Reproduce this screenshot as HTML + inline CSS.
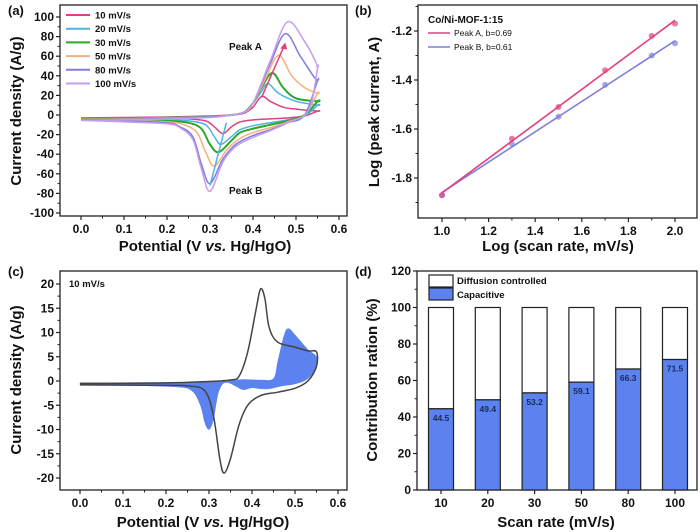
<!DOCTYPE html>
<html><head><meta charset="utf-8"><style>
html,body{margin:0;padding:0;background:#fff;}
svg{display:block;font-family:"Liberation Sans",Arial,sans-serif;font-weight:bold;}
</style></head><body>
<svg id="fig" width="700" height="532" viewBox="0 0 700 532"></svg>
<script>
// ---------- Panel (a) data ----------
const aRates = ["10 mV/s","20 mV/s","30 mV/s","50 mV/s","80 mV/s","100 mV/s"];
const aColors = ["#e0407f","#4fb3e0","#2aa82a","#f5b080","#7f7fdc","#c79cf0"];
const aFx = [
 [0,0.1,0.2,0.3,0.35,0.38,0.40,0.42,0.44,0.47,0.50,0.55],
 [0,0.1,0.2,0.3,0.35,0.38,0.40,0.42,0.435,0.46,0.50,0.55],
 [0,0.1,0.2,0.3,0.35,0.38,0.40,0.42,0.445,0.47,0.50,0.55],
 [0,0.1,0.2,0.3,0.35,0.38,0.40,0.43,0.46,0.49,0.52,0.55],
 [0,0.1,0.2,0.3,0.35,0.38,0.40,0.44,0.475,0.51,0.54,0.55],
 [0,0.1,0.2,0.3,0.35,0.38,0.40,0.44,0.48,0.52,0.545,0.55]];
const aFy = [
 [-3,-2.5,-2,-1,0,2,8,19,14,8,6,4],
 [-3.5,-3,-2.5,-1.5,0,3,12,24,32,22,14,10],
 [-4,-3.5,-3,-2,0,3,12,28,43,28,17,14],
 [-4.5,-4,-3,-2,0,3,12,38,61,40,28,22],
 [-5,-4.5,-3.5,-2,0,3,12,52,83,60,40,35],
 [-5.5,-5,-4,-2.5,0,3,12,55,95,75,55,48]];
const aRx = [
 [0.55,0.52,0.48,0.44,0.40,0.37,0.35,0.33,0.31,0.29,0.25,0.2,0.1,0],
 [0.55,0.52,0.48,0.44,0.40,0.37,0.35,0.325,0.31,0.29,0.25,0.2,0.1,0],
 [0.55,0.52,0.48,0.44,0.40,0.37,0.35,0.32,0.30,0.28,0.25,0.2,0.1,0],
 [0.55,0.52,0.48,0.44,0.40,0.37,0.34,0.31,0.29,0.27,0.24,0.2,0.1,0],
 [0.55,0.52,0.48,0.44,0.40,0.36,0.33,0.30,0.28,0.26,0.23,0.2,0.1,0],
 [0.55,0.53,0.48,0.44,0.40,0.36,0.33,0.30,0.28,0.26,0.23,0.2,0.1,0]];
const aRy = [
 [4,-1,-3,-4,-5,-7,-12,-19,-12,-6,-4,-3.5,-3.2,-3],
 [10,-1,-5,-8,-11,-15,-22,-30,-22,-10,-6,-5,-4,-3.5],
 [14,0,-6,-10,-14,-18,-26,-38,-30,-14,-8,-6,-5,-4],
 [22,0,-7,-13,-18,-24,-35,-52,-38,-18,-10,-7,-5.5,-4.5],
 [35,0,-8,-15,-21,-30,-45,-70,-50,-22,-12,-8,-6,-5],
 [48,5,-8,-16,-23,-32,-48,-78,-55,-25,-13,-9,-7,-5.5]];
const aXTicks = [0,0.1,0.2,0.3,0.4,0.5,0.6];
const aYTicks = [-100,-80,-60,-40,-20,0,20,40,60,80,100];
// ---------- Panel (b) data ----------
const bX = [1,1.3,1.5,1.7,1.9,2];
const bPeakA = [-1.87,-1.64,-1.51,-1.36,-1.22,-1.17];
const bPeakB = [-1.87,-1.66,-1.55,-1.42,-1.30,-1.25];
const bXTicks = [1.0,1.2,1.4,1.6,1.8,2.0];
const bYTicks = [-1.8,-1.6,-1.4,-1.2];
// ---------- Panel (c) data ----------
const cCurveX = [0,0.2,0.3,0.35,0.37,0.39,0.41,0.42,0.43,0.44,0.46,0.50,0.53,0.55,0.55,0.53,0.50,0.46,0.42,0.39,0.37,0.35,0.335,0.325,0.31,0.29,0.25,0.2,0];
const cCurveY = [-0.5,-0.4,-0.1,0.2,1,6,15,19,17,11,8,7,6.2,6,3,0,-1.5,-2.3,-3,-5,-9,-16,-19,-16,-7,-2,-1,-0.9,-0.8];
const cFillX = [0,0.1,0.2,0.28,0.32,0.35,0.38,0.42,0.45,0.46,0.475,0.485,0.50,0.53,0.55,0.55,0.53,0.50,0.47,0.44,0.42,0.40,0.38,0.365,0.35,0.34,0.33,0.32,0.31,0.30,0.29,0.28,0.26,0.22,0.1,0];
const cFillY = [-0.4,-0.35,-0.3,-0.2,0,0.1,0.3,0.2,0.5,4,9.5,10.8,9.5,6.5,5,3,0.5,-0.6,-1,-1.6,-1.6,-1.4,-1.8,-1.2,-0.5,-0.3,-0.8,-3,-8,-10,-8.5,-5,-2,-1.2,-0.9,-0.8];
const cXTicks = [0,0.1,0.2,0.3,0.4,0.5,0.6];
const cYTicks = [-20,-15,-10,-5,0,5,10,15,20];
// ---------- Panel (d) data ----------
const dRates = ["10","20","30","50","80","100"];
const dCap = [44.5,49.4,53.2,59.1,66.3,71.5];
const dYTicks = [0,20,40,60,80,100,120];

const svg = document.getElementById('fig');
const NS = "http://www.w3.org/2000/svg";
function mk(tag, attrs, parent){ const e=document.createElementNS(NS,tag); for(const k in attrs) e.setAttribute(k,attrs[k]); (parent||svg).appendChild(e); return e; }
function txt(x,y,s,size,anchor,parent,extra){ const t=mk('text',Object.assign({x:x,y:y,'font-size':size,'text-anchor':anchor||'start',fill:'#111'},extra||{}),parent); t.textContent=s; return t; }
function lin(d0,d1,r0,r1){ return v=> r0+(v-d0)*(r1-r0)/(d1-d0); }
function smooth(pts){ let d='M'+pts[0][0].toFixed(1)+','+pts[0][1].toFixed(1);
 for(let i=0;i<pts.length-1;i++){ const p0=pts[i-1]||pts[i],p1=pts[i],p2=pts[i+1],p3=pts[i+2]||p2;
  const c1=[p1[0]+(p2[0]-p0[0])/6,p1[1]+(p2[1]-p0[1])/6], c2=[p2[0]-(p3[0]-p1[0])/6,p2[1]-(p3[1]-p1[1])/6];
  d+=' C'+c1.map(v=>v.toFixed(1)).join(',')+' '+c2.map(v=>v.toFixed(1)).join(',')+' '+p2[0].toFixed(1)+','+p2[1].toFixed(1);}
 return d; }
function frame(g,L,T,R,B,sx,sy,xt,yt,xfmt,yfmt,xminor,yminor){
 mk('rect',{x:L,y:T,width:R-L,height:B-T,fill:'none',stroke:'#222','stroke-width':1.3},g);
 xt.forEach(v=>{ const x=sx(v); mk('line',{x1:x,y1:B,x2:x,y2:B+4,stroke:'#222','stroke-width':1.2},g); txt(x,B+17,xfmt(v),12,'middle',g); });
 yt.forEach(v=>{ const y=sy(v); mk('line',{x1:L,y1:y,x2:L-4,y2:y,stroke:'#222','stroke-width':1.2},g); txt(L-6,y+4,yfmt(v),12,'end',g); });
 (xminor||[]).forEach(v=>{ const x=sx(v); mk('line',{x1:x,y1:B,x2:x,y2:B+2.5,stroke:'#222'},g); });
 (yminor||[]).forEach(v=>{ const y=sy(v); mk('line',{x1:L,y1:y,x2:L-2.5,y2:y,stroke:'#222'},g); });
}
function mids(t){ const r=[]; for(let i=0;i<t.length-1;i++) r.push((t[i]+t[i+1])/2); return r; }

// ===== Panel (a) =====
(function(){
 const g=mk('g',{});  
 const L=60,T=5,R=347,B=216; const sx=lin(0,0.6,81,339), sy=lin(-100,100,213,17);
 frame(g,L,T,R,B,sx,sy,aXTicks,aYTicks,v=>v.toFixed(1),v=>String(v),mids(aXTicks),mids(aYTicks));
 aRates.forEach((r,i)=>{
  const pts=aFx[i].map((x,j)=>[sx(x),sy(aFy[i][j])]).concat(aRx[i].map((x,j)=>[sx(x),sy(aRy[i][j])]));
  const p=mk('path',{d:smooth(pts),fill:'none',stroke:aColors[i],'stroke-width':i==2?2:1.5},g);
   
  const y=15+i*13.7;
  const l=mk('line',{x1:66,y1:y,x2:90,y2:y,stroke:aColors[i],'stroke-width':2},g);
   
  const t=txt(95,y+3.5,r,9.5,'start',g);  
 });
 mk('line',{x1:sx(0.42),y1:sy(18),x2:sx(0.47),y2:sy(68),stroke:'#e0407f','stroke-width':1.5},g);
 mk('path',{d:`M${sx(0.475)},${sy(74)} l-5,6 l7,1 z`,fill:'#e0407f'},g);
 mk('line',{x1:sx(0.30),y1:sy(-72),x2:sx(0.338),y2:sy(-8),stroke:'#4fb3e0','stroke-width':1.5},g);
 const pa=txt(229,50,'Peak A',10,'start',g);  
 const pb=txt(229,194,'Peak B',10,'start',g);  
 const yt=txt(0,0,'Current density (A/g)',15,'middle',g,{transform:'translate(21,111) rotate(-90)'});  
 const xt=txt(205,251,'',15,'middle',g); xt.innerHTML='Potential (V <tspan font-style="italic">vs.</tspan> Hg/HgO)';
  
 const lab=txt(8,15,'(a)',13,'start',g);  
})();

// ===== Panel (b) =====
(function(){
 const g=mk('g',{});  
 const L=418,T=5,R=697,B=218; const sx=lin(1,2,442,675), sy=lin(-1.8,-1.2,178,31);
 frame(g,L,T,R,B,sx,sy,bXTicks,bYTicks,v=>v.toFixed(1),v=>v.toFixed(1),mids(bXTicks),[-1.9,-1.7,-1.5,-1.3,-1.1]);
 function fit(ys){ const n=bX.length, mx=bX.reduce((a,b)=>a+b)/n, my=ys.reduce((a,b)=>a+b)/n;
  let num=0,den=0; bX.forEach((x,i)=>{num+=(x-mx)*(ys[i]-my);den+=(x-mx)*(x-mx);}); const m=num/den; return [m,my-m*mx]; }
 [[bPeakB,'#7f7fdc','peak-b'],[bPeakA,'#e0407f','peak-a']].forEach(([ys,c,nm])=>{
  const [m,b0]=fit(ys);
  const l=mk('line',{x1:sx(1),y1:sy(m+b0),x2:sx(2),y2:sy(2*m+b0),stroke:c,'stroke-width':1.6},g);
   
  bX.forEach((x,i)=>{ const p=mk('circle',{cx:sx(x),cy:sy(ys[i]),r:3,fill:c,'fill-opacity':0.7},g);
     });
 });
 const t0=txt(428,23,'Co/Ni-MOF-1:15',10,'start',g);  
 mk('line',{x1:428,y1:33,x2:450,y2:33,stroke:'#e0407f','stroke-width':1.6},g);
 const t1=txt(454,36,'Peak A, b=0.69',8.5,'start',g,{'font-weight':'normal'});  
 mk('line',{x1:428,y1:47,x2:450,y2:47,stroke:'#7f7fdc','stroke-width':1.6},g);
 const t2=txt(454,50,'Peak B, b=0.61',8.5,'start',g,{'font-weight':'normal'});  
 const yt=txt(0,0,'Log (peak current, A)',15,'middle',g,{transform:'translate(379,112) rotate(-90)'});  
 const xt=txt(558,251,'Log (scan rate, mV/s)',15,'middle',g);  
 const lab=txt(355,15,'(b)',13,'start',g);  
})();

// ===== Panel (c) =====
(function(){
 const g=mk('g',{});  
 const L=60,T=271,R=347,B=490; const sx=lin(0,0.6,80,338), sy=lin(-20,20,478,284);
 frame(g,L,T,R,B,sx,sy,cXTicks,cYTicks,v=>v.toFixed(1),v=>String(v),mids(cXTicks),mids(cYTicks));
 const f=mk('path',{d:smooth(cFillX.map((x,i)=>[sx(x),sy(cFillY[i])]))+' Z',fill:'#5b82ee',stroke:'#5b82ee','stroke-width':0.5},g);
  
 const c=mk('path',{d:smooth(cCurveX.map((x,i)=>[sx(x),sy(cCurveY[i])])),fill:'none',stroke:'#444','stroke-width':1.5},g);
  
 const t=txt(69,287,'10 mV/s',9.5,'start',g);  
 const yt=txt(0,0,'Current density (A/g)',15,'middle',g,{transform:'translate(21,380) rotate(-90)'});  
 const xt=txt(203,527,'',15,'middle',g); xt.innerHTML='Potential (V <tspan font-style="italic">vs.</tspan> Hg/HgO)';
  
 const lab=txt(8,276,'(c)',13,'start',g);  
})();

// ===== Panel (d) =====
(function(){
 const g=mk('g',{});  
 const L=417,T=271,R=697,B=490; const sy=lin(0,120,490,271); const sx=i=>441+i*46.8; const bw=25;
 mk('rect',{x:L,y:T,width:R-L,height:B-T,fill:'none',stroke:'#222','stroke-width':1.3},g);
 dYTicks.forEach(v=>{ const y=sy(v); mk('line',{x1:L,y1:y,x2:L-4,y2:y,stroke:'#222','stroke-width':1.2},g); txt(L-6,y+4,String(v),12,'end',g); });
 mids(dYTicks).forEach(v=>{ const y=sy(v); mk('line',{x1:L,y1:y,x2:L-2.5,y2:y,stroke:'#222'},g); });
 dRates.forEach((r,i)=>{ const x=sx(i);
  mk('line',{x1:x,y1:B,x2:x,y2:B+4,stroke:'#222','stroke-width':1.2},g); txt(x,B+17,r,12,'middle',g);
  const w=mk('rect',{x:x-bw/2,y:sy(100),width:bw,height:sy(dCap[i])-sy(100),fill:'#fff',stroke:'#222','stroke-width':1.2},g);
   
  const b=mk('rect',{x:x-bw/2,y:sy(dCap[i]),width:bw,height:B-sy(dCap[i]),fill:'#5b82ee',stroke:'#222','stroke-width':1.2},g);
   
  const t=txt(x,sy(dCap[i])+12,dCap[i].toFixed(1),8.5,'middle',g,{fill:'#1a2a55'});
   
 });
 mk('rect',{x:429,y:275,width:24,height:12,fill:'#fff',stroke:'#222','stroke-width':1.2},g);
 const l1=txt(457,284,'Diffusion controlled',9.5,'start',g);  
 mk('rect',{x:429,y:288,width:24,height:12,fill:'#5b82ee',stroke:'#222','stroke-width':1.2},g);
 const l2=txt(457,298,'Capacitive',9.5,'start',g);  
 const yt=txt(0,0,'Contribution ration (%)',15,'middle',g,{transform:'translate(377,380) rotate(-90)'});  
 const xt=txt(556,527,'Scan rate (mV/s)',15,'middle',g);  
 const lab=txt(355,276,'(d)',13,'start',g);  
})();
</script>
</body></html>
